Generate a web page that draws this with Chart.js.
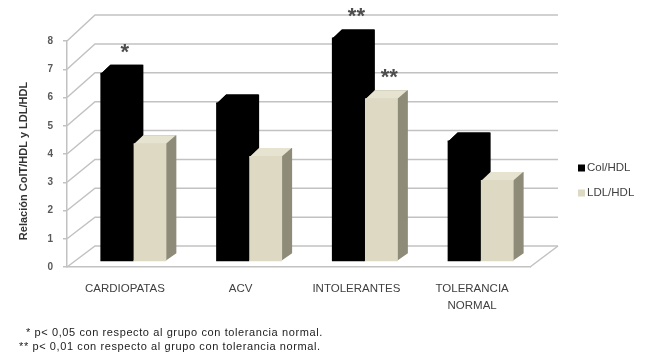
<!DOCTYPE html>
<html>
<head>
<meta charset="utf-8">
<script src="https://cdn.jsdelivr.net/npm/chart.js@4/dist/chart.umd.min.js"></script>
<style>
  html, body { margin: 0; padding: 0; background: #ffffff; }
  #wrap { position: relative; width: 645px; height: 362px; overflow: hidden; }
  #c { position: absolute; left: 0; top: 0; }
  .note {
    position: absolute;
    font-family: "Liberation Sans", Arial, sans-serif;
    font-size: 11px;
    letter-spacing: 0.6px;
    color: #222222;
    white-space: nowrap;
    line-height: 12px;
  }
</style>
</head>
<body>
<div id="wrap">
  <canvas id="c" width="645" height="362"></canvas>
  <div class="note" id="n1" style="left:26px; top:326px;">* p&lt; 0,05 con respecto al grupo con tolerancia normal.</div>
  <div class="note" id="n2" style="left:19px; top:340px;">** p&lt; 0,01 con respecto al grupo con tolerancia normal.</div>
</div>
<script>
// Groups and ratios
const categories = ['CARDIOPATAS', 'ACV', 'INTOLERANTES', ['TOLERANCIA', 'NORMAL']];
const colHdl = [6.7, 5.65, 7.95, 4.3];
const ldlHdl = [4.2, 3.75, 5.8, 2.9];
// Significance markers above each bar
const colHdlMarks = ['*', '', '**', ''];
const ldlHdlMarks = ['', '', '**', ''];
// Value axis
const yMin = 0;
const yMax = 8;
const yStep = 1;
const yTitle = 'Relación ColT/HDL y LDL/HDL';

// 3D look: back wall offset, bar plane offset and bar depth
const WALL_DX = 28, WALL_DY = -21, WALL_SCALE = 1.022;
const BAR_DX = 8.5, BAR_DY = -5;
const BOX_DX = 10, BOX_DY = -8;
const GRID = '#c2c2c2';
const FONT = '"Liberation Sans", Arial, sans-serif';

const faceColors = [
  { front: '#000000', top: '#000000', side: '#000000' },
  { front: '#DDD9C3', top: '#E6E3D1', side: '#8E8B78' }
];
const marks = [colHdlMarks, ldlHdlMarks];

const box3d = {
  id: 'box3d',
  beforeDatasetsDraw(chart) {
    const ctx = chart.ctx;
    const a = chart.chartArea;
    const ys = chart.scales.y;
    const y0 = ys.getPixelForValue(0);
    const yb = v => y0 + WALL_DY + (ys.getPixelForValue(v) - y0) * WALL_SCALE;

    // walls and floor
    ctx.save();
    ctx.strokeStyle = GRID;
    ctx.lineWidth = 1.5;
    for (let v = yMin; v <= yMax; v += yStep) {
      const yf = ys.getPixelForValue(v);
      ctx.beginPath();
      ctx.moveTo(a.left, yf);
      ctx.lineTo(a.left + WALL_DX, yb(v));
      ctx.lineTo(a.right + WALL_DX, yb(v));
      ctx.stroke();
    }
    ctx.beginPath();
    ctx.moveTo(a.right, a.bottom);
    ctx.lineTo(a.right + WALL_DX, yb(0));
    ctx.stroke();
    ctx.restore();

    // bars live on a plane slightly behind the front edge;
    // the depth silhouette is filled first, then the top face over it,
    // and the library draws the front face last
    ctx.save();
    ctx.translate(BAR_DX, BAR_DY);
    chart.data.datasets.forEach((ds, di) => {
      const meta = chart.getDatasetMeta(di);
      const col = faceColors[di];
      meta.data.forEach(bar => {
        const p = bar.getProps(['x', 'y', 'base', 'width'], true);
        const l = p.x - p.width / 2, r = p.x + p.width / 2;
        // side + top silhouette
        ctx.fillStyle = col.side;
        ctx.beginPath();
        ctx.moveTo(l, p.y + 1.5);
        ctx.lineTo(l + BOX_DX, p.y + BOX_DY);
        ctx.lineTo(r + BOX_DX, p.y + BOX_DY);
        ctx.lineTo(r + BOX_DX, p.base + BOX_DY);
        ctx.lineTo(r - 1.5, p.base);
        ctx.lineTo(r - 1.5, p.y + 1.5);
        ctx.closePath();
        ctx.fill();
        // top face
        ctx.fillStyle = col.top;
        ctx.beginPath();
        ctx.moveTo(l, p.y + 1.5);
        ctx.lineTo(r - 1.5, p.y + 1.5);
        ctx.lineTo(r + BOX_DX - 0.5, p.y + BOX_DY);
        ctx.lineTo(l + BOX_DX, p.y + BOX_DY);
        ctx.closePath();
        ctx.fill();
      });
    });
  },
  afterDatasetsDraw(chart) {
    const ctx = chart.ctx;
    // significance stars over the bars (still on the bar plane)
    ctx.fillStyle = '#4d4d4d';
    ctx.font = 'bold 22px ' + FONT;
    ctx.textAlign = 'center';
    ctx.textBaseline = 'alphabetic';
    chart.data.datasets.forEach((ds, di) => {
      const meta = chart.getDatasetMeta(di);
      meta.data.forEach((bar, i) => {
        const m = marks[di][i];
        if (!m) return;
        const p = bar.getProps(['x', 'y'], true);
        ctx.fillText(m, p.x + BOX_DX / 2 + 3, p.y + BOX_DY - 6);
      });
    });
    ctx.restore();
  },
  afterDraw(chart) {
    const ctx = chart.ctx;
    ctx.save();
    // axis title
    ctx.fillStyle = '#333333';
    ctx.font = 'bold 11px ' + FONT;
    ctx.textAlign = 'center';
    ctx.textBaseline = 'middle';
    ctx.translate(24, 161);
    ctx.rotate(-Math.PI / 2);
    ctx.fillText(yTitle, 0, 0);
    ctx.restore();

    // legend
    ctx.save();
    ctx.font = '11.5px ' + FONT;
    ctx.textAlign = 'left';
    ctx.textBaseline = 'middle';
    chart.data.datasets.forEach((ds, di) => {
      const cy = 168 + di * 25;
      ctx.fillStyle = ds.backgroundColor;
      ctx.fillRect(578, cy - 3.5, 7, 7);
      ctx.fillStyle = '#404040';
      ctx.fillText(ds.label, 587, cy);
    });
    ctx.restore();
  }
};

new Chart(document.getElementById('c'), {
  type: 'bar',
  data: {
    labels: categories,
    datasets: [
      { label: 'Col/HDL', data: colHdl, backgroundColor: faceColors[0].front, borderWidth: 0, clip: false },
      { label: 'LDL/HDL', data: ldlHdl, backgroundColor: faceColors[1].front, borderWidth: 0, clip: false }
    ]
  },
  options: {
    responsive: false,
    animation: false,
    devicePixelRatio: 1,
    categoryPercentage: 0.57,
    barPercentage: 1.0,
    layout: { padding: { left: 0, right: 115, top: 41, bottom: 0 } },
    plugins: {
      legend: { display: false },
      tooltip: { enabled: false }
    },
    scales: {
      x: {
        grid: { display: false, drawTicks: false },
        border: { display: true, color: GRID, width: 1.5 },
        ticks: {
          color: '#404040',
          padding: 13,
          maxRotation: 0,
          autoSkip: false,
          font: { family: FONT, size: 11.5, lineHeight: 1.5 }
        },
        afterFit(s) { s.height = 95; }
      },
      y: {
        min: yMin,
        max: yMax,
        grid: { drawOnChartArea: false, drawTicks: true, tickLength: 4, color: GRID, lineWidth: 1.5 },
        border: { display: true, color: GRID, width: 1.5 },
        ticks: {
          stepSize: yStep,
          padding: 10,
          color: '#595959',
          font: { family: FONT, size: 10, weight: 'bold' }
        },
        afterFit(s) { s.width = 67; }
      }
    }
  },
  plugins: [box3d]
});
</script>
</body>
</html>
